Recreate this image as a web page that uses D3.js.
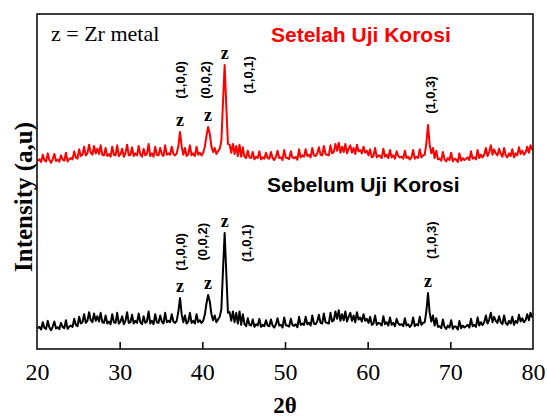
<!DOCTYPE html>
<html><head><meta charset="utf-8">
<script src="https://cdn.jsdelivr.net/npm/d3@7"></script>
<style>body{margin:0;background:#fff}svg{display:block}</style>
</head><body>
<script>
// measurement grid (2θ, degrees)
const angleStart = 20.1, angleStep = 0.2;
const xTicks = [20, 30, 40, 50, 60, 70, 80];
// Intensity (a.u.) – before corrosion test (black)
const sebelum = [
62,66,58,80,63,60,84,64,56,67,82,61,65,59,78,66,62,86,60,67,
70,66,90,72,68,96,76,80,104,78,84,110,86,80,106,84,98,82,108,80,
78,100,76,82,74,104,80,78,108,76,82,98,74,84,110,78,80,102,76,84,
78,106,80,74,98,78,82,112,76,84,74,104,80,78,100,82,76,108,80,84,
80,104,82,78,84,112,152,104,80,100,76,82,108,78,84,76,104,80,86,78,
84,102,136,161,142,104,86,100,80,88,96,118,236,346,226,108,110,84,112,80,
108,76,112,72,104,74,68,92,72,70,88,66,74,70,90,66,72,68,86,70,
68,88,70,64,74,92,70,72,64,94,71,70,67,90,72,69,74,65,96,72,
76,72,96,74,78,70,100,76,74,82,102,78,76,106,80,78,76,108,82,86,
112,90,116,84,104,86,112,82,96,108,84,100,80,110,88,94,82,104,84,90,
78,96,72,76,100,72,78,76,70,98,74,80,70,94,72,78,68,90,76,72,
74,68,92,70,74,66,72,94,68,74,70,96,72,78,80,112,167,108,82,100,
70,92,66,68,62,88,66,60,70,64,86,60,68,66,58,84,62,70,64,68,
72,64,90,68,72,66,94,70,80,72,80,100,76,88,108,80,96,84,78,98,
80,74,100,78,72,84,76,96,72,84,78,102,82,92,80,86,104,86,108,94];
// Intensity (a.u.) – after corrosion test (red)
const setelah = [
562,566,558,580,563,560,584,564,556,567,582,561,565,559,578,566,562,586,560,567,
570,566,590,572,568,596,576,580,604,578,584,610,586,580,606,584,598,582,608,580,
578,600,576,582,574,604,580,578,608,576,582,598,574,584,610,578,580,602,576,584,
578,606,580,574,598,578,582,612,576,584,574,604,580,578,600,582,576,608,580,584,
580,604,582,578,584,606,648,604,580,600,576,582,608,578,584,576,604,580,586,578,
586,604,636,663,642,604,588,600,582,590,598,620,738,848,724,612,610,586,612,582,
606,576,610,574,602,574,570,592,572,570,588,566,574,570,590,566,572,568,586,570,
568,588,570,564,574,592,570,572,564,594,571,570,567,590,572,569,574,565,596,572,
578,574,596,576,580,572,600,578,576,584,602,580,578,606,582,580,578,608,584,588,
612,592,616,586,604,588,612,584,598,608,586,600,582,610,590,594,584,604,586,592,
578,596,572,576,600,572,578,576,570,598,574,580,570,594,572,578,568,590,576,572,
574,568,592,570,574,566,572,594,568,574,570,596,572,578,580,614,669,610,584,600,
570,592,566,568,562,588,566,560,570,564,586,560,568,566,558,584,562,570,564,568,
572,564,590,568,572,566,594,570,580,572,580,600,576,588,608,580,596,584,578,598,
582,574,600,578,572,584,576,596,572,584,578,602,582,592,580,586,604,586,608,594];
// peak annotations ("z" marks; null = no mark)
const peakAngles = [37.3, 40.7, 42.7, 67.3];
const peakLabels = ["(1,0,0)", "(0,0,2)", "(1,0,1)", "(1,0,3)"];
const labelAnglesSebelum = [37.3, 40.05, 45.35, 67.7];
const labelAnglesSetelah = [37.3, 40.35, 45.6, 67.55];
const peaksSebelum = [152, 161, 346, 167];
const peaksSetelah = [648, 663, 848, null];
const hklSebelum = [290, 320, 316, 325];
const hklSetelah = [803, 803, 818, 758];

const W = 547, H = 418;
const m = {l: 37, r: 14, t: 14, b: 69};
const serif = "'Liberation Serif','Times New Roman',serif";
const sans = "'Liberation Sans',Arial,sans-serif";
const svg = d3.select("body").append("svg").attr("width", W).attr("height", H);
const x = d3.scaleLinear().domain([20, 80]).range([m.l, W - m.r]);
const y = d3.scaleLinear().domain([0, 1000]).range([H - m.b, m.t]);

const toPts = arr => arr.map((v, i) => [angleStart + i * angleStep, v]);
const line = d3.line().x(d => x(d[0])).y(d => y(d[1]));

const g = svg.append("g");
g.append("path").datum(toPts(sebelum)).attr("d", line)
  .attr("fill", "none").attr("stroke", "#000").attr("stroke-width", 2).attr("stroke-linejoin", "round");
g.append("path").datum(toPts(setelah)).attr("d", line)
  .attr("fill", "none").attr("stroke", "#ff0000").attr("stroke-width", 2).attr("stroke-linejoin", "round");

// frame
svg.append("rect").attr("x", m.l).attr("y", m.t)
  .attr("width", W - m.l - m.r).attr("height", H - m.t - m.b)
  .attr("fill", "none").attr("stroke", "#000").attr("stroke-width", 1.5);

// x axis
const xAxis = d3.axisBottom(x).tickValues(xTicks).tickSize(-7).tickPadding(14).tickFormat(d3.format("d"));
const ax = svg.append("g").attr("transform", `translate(0,${H - m.b})`).call(xAxis);
ax.attr("font-family", serif).attr("font-size", 24);
ax.select(".domain").remove();
ax.selectAll(".tick line").attr("stroke-width", 1.5)
  .attr("display", d => (d === 20 || d === 80) ? "none" : null);
ax.selectAll("text").style("font-family", serif).style("font-size", "24px").attr("fill", "#000");

svg.append("text").attr("x", x(50)).attr("y", 413)
  .attr("text-anchor", "middle").style("font-family", serif)
  .attr("font-weight", "bold").style("font-size", "23px").text("2θ");
svg.append("text").attr("transform", `translate(32,197) rotate(-90)`)
  .attr("text-anchor", "middle").style("font-family", serif)
  .attr("font-weight", "bold").style("font-size", "25px").text("Intensity (a,u)");

svg.append("text").attr("x", 51).attr("y", 41)
  .style("font-family", serif).style("font-size", "22px").text("z = Zr metal");
svg.append("text").attr("x", 271).attr("y", 42)
  .style("font-family", sans).attr("font-weight", "bold")
  .style("font-size", "21px").attr("fill", "#ff0000").text("Setelah Uji Korosi");
svg.append("text").attr("x", 267).attr("y", 192)
  .style("font-family", sans).attr("font-weight", "bold")
  .style("font-size", "21px").attr("fill", "#000").text("Sebelum Uji Korosi");

function annotate(peaks, hkl, angles) {
  peaks.forEach((p, i) => {
    if (p !== null) {
      svg.append("text").attr("x", x(peakAngles[i])).attr("y", y(p) - 6)
        .attr("text-anchor", "middle").style("font-family", serif)
        .attr("font-weight", "bold").style("font-size", "18px").text("z");
    }
    svg.append("text").attr("transform", `translate(${x(angles[i])},${y(hkl[i])}) rotate(-90)`)
      .attr("text-anchor", "middle").attr("dominant-baseline", "central").style("font-family", sans)
      .attr("font-weight", "bold").style("font-size", "13px").text(peakLabels[i]);
  });
}
annotate(peaksSebelum, hklSebelum, labelAnglesSebelum);
annotate(peaksSetelah, hklSetelah, labelAnglesSetelah);
</script>
</body></html>
